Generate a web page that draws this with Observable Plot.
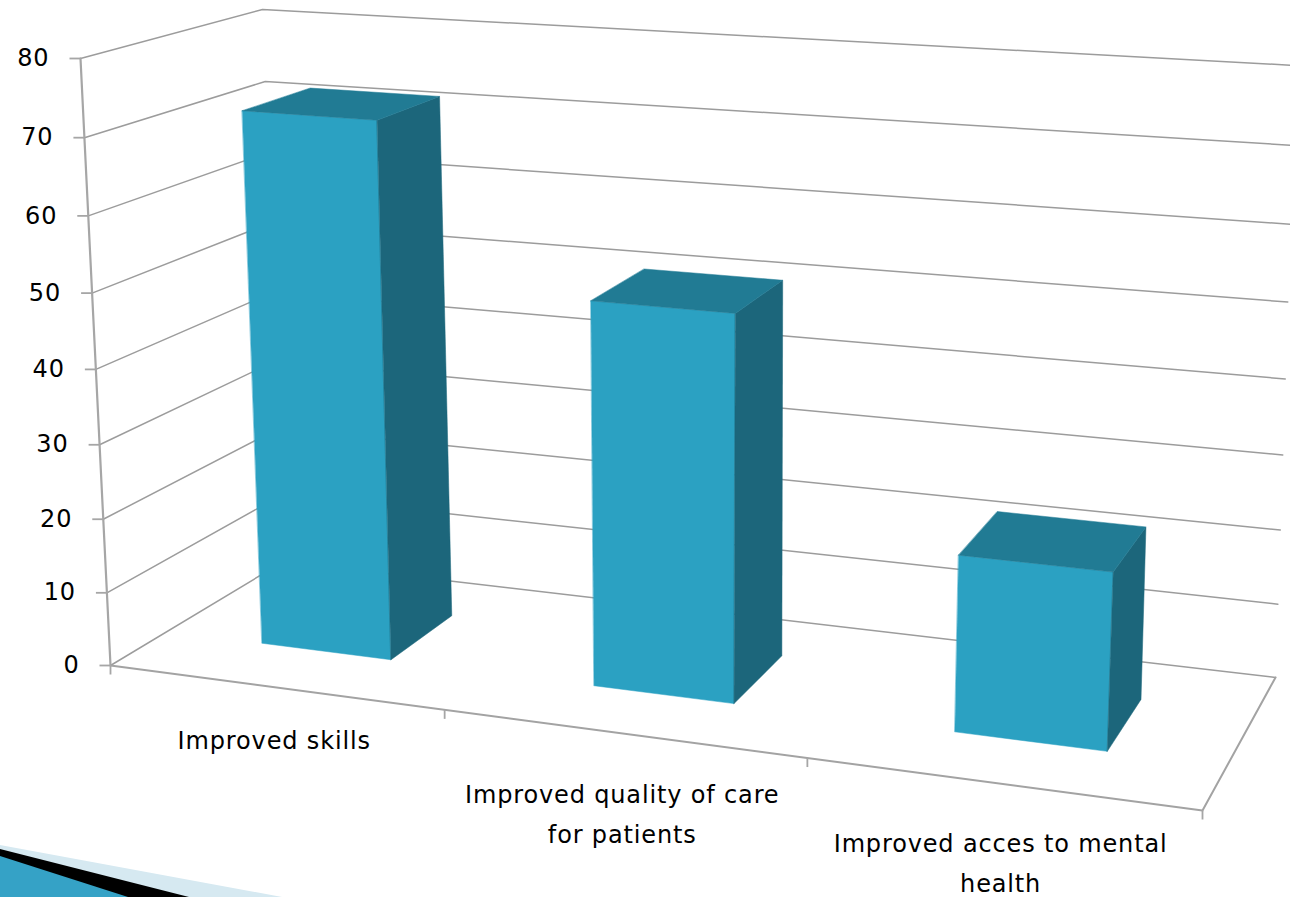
<!DOCTYPE html>
<html>
<head>
<meta charset="utf-8">
<script src="https://cdn.jsdelivr.net/npm/d3@7"></script>
<script src="https://cdn.jsdelivr.net/npm/@observablehq/plot@0.6"></script>
<style>
  html, body { margin: 0; padding: 0; background: #fff; overflow: hidden; }
  #stage { position: relative; width: 1290px; height: 897px; }
  #stage > svg { position: absolute; left: 0; top: 0; }
  #stage text { letter-spacing: 0.85px; }
</style>
</head>
<body>
<div id="stage">
  <!-- Slide template's corner arrow -->
  <svg id="corner" width="1290" height="897" aria-hidden="true">
    <polygon points="0,845 282,897 0,897" fill="#d6e9f1"/>
    <polygon points="0,849 189,897 0,897" fill="#000"/>
    <polygon points="0,856 128,897 0,897" fill="#35a2c6"/>
  </svg>
</div>
<script>
// Chart values
const categories = ["Improved skills", "Improved quality of care\nfor patients", "Improved acces to mental\nhealth"];
const values = [72, 51, 23];
const gridValues = [0, 10, 20, 30, 40, 50, 60, 70, 80];

// Box of the 3-D chart: [x, y] on screen of each corner, by side and height.
const box = {
  frontLeft:  {low: [110, 665], high: [80, 58]},
  frontRight: {low: [1202, 810], high: [1233, 137]},
  backLeft:   {low: [283, 561], high: [262, 9]},
  backRight:  {low: [1275, 677], high: [1295, 65]}
};
const valueMax = 80;
const depthLean = 1.134;   // foreshortening along the category axis
const heightLean = 0.05;   // foreshortening along the value axis
const barStart = 0.3, barEnd = 0.698, barNear = 0.33, barFar = 0.73;
const labelDrop = [33, 41, 40];   // gap below the floor edge for each category label

const mix = (a, b, t) => a + (b - a) * t;

// Project (category position, depth 0..1, value) to screen coordinates.
function project(u, d, v) {
  const s = u / categories.length;
  const a = s / (s + (1 - s) * depthLean);
  const r = v / valueMax;
  const t = r / (1 + heightLean * (1 - r));
  const corner = c => [mix(c.low[0], c.high[0], t), mix(c.low[1], c.high[1], t)];
  const fl = corner(box.frontLeft), fr = corner(box.frontRight);
  const bl = corner(box.backLeft), br = corner(box.backRight);
  const f = [mix(fl[0], fr[0], a), mix(fl[1], fr[1], a)];
  const b = [mix(bl[0], br[0], a), mix(bl[1], br[1], a)];
  return {x: mix(f[0], b[0], d), y: mix(f[1], b[1], d)};
}

// Gridlines: along the left wall, then along the back wall.
const n = categories.length;
const grid = gridValues.flatMap(v => [
  {v, ...project(0, 0, v)},
  {v, ...project(0, 1, v)},
  {v, ...project(n, 1, v)}
]);
const valueAxis = [project(0, 0, 0), project(0, 0, valueMax)];
const floorEdge = [project(0, 0, 0), project(n, 0, 0), project(n, 1, 0)];

const valueTicks = gridValues.map(v => ({v, ...project(0, 0, v)}));
const categoryTicks = d3.range(n + 1).map(i => project(i, 0, 0));

// The three visible faces of each bar.
function faces(value, i) {
  const u0 = i + barStart, u1 = i + barEnd;
  const quad = (face, pts) => pts.map(([u, d, v]) => ({id: `${i}-${face}`, face, ...project(u, d, v)}));
  return [
    ...quad("front", [[u0, barNear, 0], [u1, barNear, 0], [u1, barNear, value], [u0, barNear, value]]),
    ...quad("side",  [[u1, barNear, 0], [u1, barFar, 0], [u1, barFar, value], [u1, barNear, value]]),
    ...quad("top",   [[u0, barNear, value], [u1, barNear, value], [u1, barFar, value], [u0, barFar, value]])
  ];
}
const bars = values.flatMap(faces);
const faceColor = {front: "#2ba1c2", side: "#1c667b", top: "#217b94"};

const labelFont = {fontFamily: "'DejaVu Sans', sans-serif", fontSize: 24, fill: "#000"};
const categoryLabels = categories.map((label, i) => {
  const p = project(i + 0.5, 0, 0);
  return {label, x: p.x, y: p.y + labelDrop[i]};
});

const chart = Plot.plot({
  width: 1290,
  height: 897,
  margin: 0,
  style: {background: "transparent"},
  x: {domain: [0, 1290], range: [0, 1290], axis: null},
  y: {domain: [0, 897], range: [0, 897], axis: null},
  marks: [
    Plot.line(grid, {x: "x", y: "y", z: "v", stroke: "#9c9c9c", strokeWidth: 1.5}),
    Plot.line(valueAxis, {x: "x", y: "y", stroke: "#a6a6a6", strokeWidth: 2.2}),
    Plot.line(floorEdge, {x: "x", y: "y", stroke: "#a3a3a3", strokeWidth: 2}),
    Plot.link(valueTicks, {x1: d => d.x - 11, x2: "x", y1: "y", y2: "y", stroke: "#a6a6a6", strokeWidth: 1.8}),
    Plot.link(categoryTicks, {x1: "x", x2: "x", y1: "y", y2: d => d.y + 9, stroke: "#a6a6a6", strokeWidth: 1.8}),
    Plot.line(bars, {x: "x", y: "y", z: "id", fill: d => faceColor[d.face], stroke: d => faceColor[d.face], strokeWidth: 0.5, curve: "linear-closed"}),
    Plot.text(valueTicks, {x: "x", y: "y", text: "v", dx: -31, textAnchor: "end", ...labelFont}),
    Plot.text(categoryLabels, {x: "x", y: "y", text: "label", lineAnchor: "top", lineHeight: 1.67, ...labelFont})
  ]
});
document.getElementById("stage").appendChild(chart);
</script>
</body>
</html>
